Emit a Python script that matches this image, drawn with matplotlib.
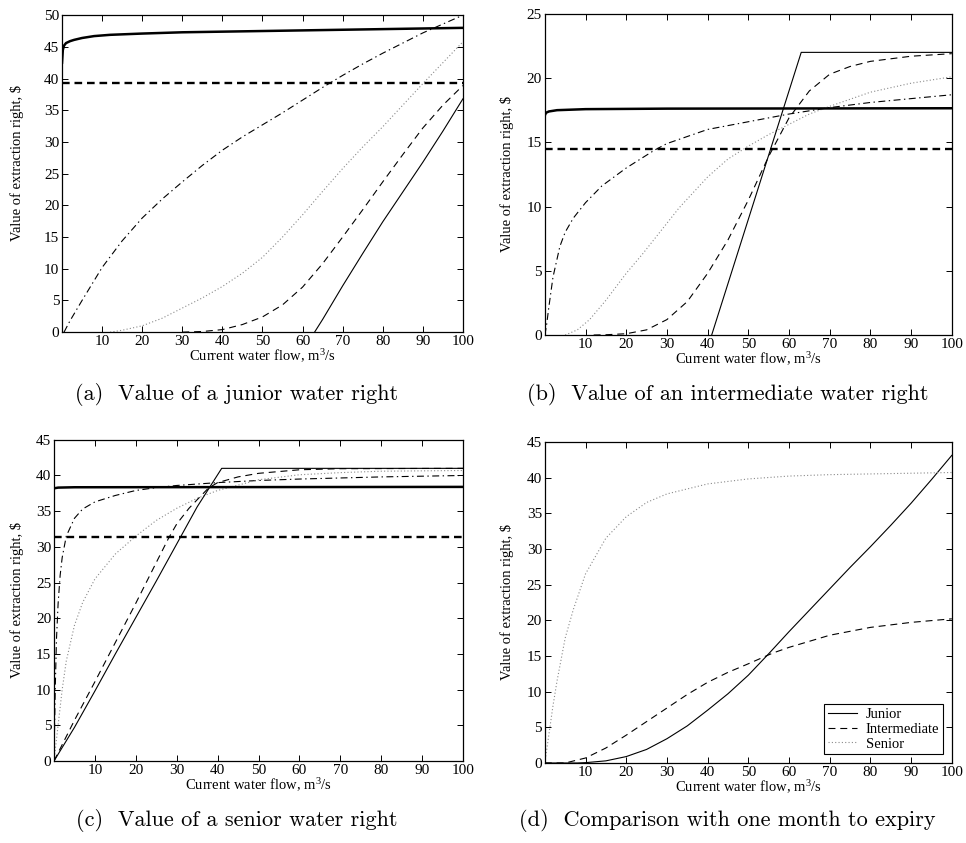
import matplotlib
matplotlib.use("Agg")
from matplotlib import pyplot as plt

plt.rcParams["font.family"] = ["Liberation Serif", "DejaVu Serif"]
plt.rcParams["mathtext.fontset"] = "custom"
plt.rcParams["mathtext.rm"] = "Liberation Serif"
plt.rcParams["mathtext.it"] = "Liberation Serif:italic"
plt.rcParams["lines.scale_dashes"] = False

# ---- panel (a): junior water right ----
a_thick_solid_x = [0, 0.2, 0.5, 1, 2, 3, 5, 8, 12, 20, 30, 40, 50, 60, 70, 80, 90, 100]
a_thick_solid_y = [42.5, 44.5, 45.2, 45.6, 45.9, 46.1, 46.4, 46.7, 46.9, 47.1, 47.3, 47.4, 47.5, 47.6, 47.7, 47.8, 47.9, 48.0]
a_thick_dashed_x = [0, 100]
a_thick_dashed_y = [39.35, 39.35]
a_dashdot_x = [0.5, 2, 5, 10, 15, 20, 25, 30, 35, 40, 45, 50, 55, 60, 65, 70, 75, 80, 85, 90, 95, 100]
a_dashdot_y = [0, 1.8, 5, 10.2, 14.4, 18.0, 21.0, 23.7, 26.3, 28.7, 30.8, 32.7, 34.6, 36.6, 38.6, 40.5, 42.3, 44.0, 45.6, 47.2, 48.6, 50.0]
a_dotted_x = [12, 15, 20, 25, 30, 35, 40, 45, 50, 55, 60, 65, 70, 75, 80, 85, 90, 95, 100]
a_dotted_y = [0, 0.3, 1.0, 2.2, 3.8, 5.4, 7.2, 9.3, 11.8, 15.0, 18.5, 22.2, 25.8, 29.2, 32.4, 35.8, 39.2, 42.5, 45.8]
a_dashed_x = [30, 35, 40, 45, 50, 55, 60, 65, 70, 75, 80, 85, 90, 95, 100]
a_dashed_y = [0, 0.1, 0.4, 1.2, 2.4, 4.3, 7.1, 10.8, 15, 19.3, 23.7, 28, 32.2, 35.8, 38.9]
a_solid_x = [63, 65, 70, 75, 80, 85, 90, 95, 100]
a_solid_y = [0, 2, 7.3, 12.4, 17.4, 22.1, 26.8, 31.7, 36.8]

# ---- panel (b): intermediate water right ----
b_thick_solid_x = [0, 0.3, 1, 3, 10, 30, 100]
b_thick_solid_y = [17.1, 17.3, 17.4, 17.5, 17.58, 17.62, 17.65]
b_thick_dashed_x = [0, 100]
b_thick_dashed_y = [14.45, 14.45]
b_solid_x = [41, 63, 100]
b_solid_y = [0, 22, 22]
b_dashed_x = [12, 15, 20, 25, 30, 35, 40, 45, 50, 55, 60, 65, 70, 75, 80, 90, 100]
b_dashed_y = [0, 0.02, 0.1, 0.4, 1.2, 2.6, 4.8, 7.4, 10.5, 13.9, 16.9, 19.0, 20.3, 20.9, 21.3, 21.7, 21.9]
b_dotted_x = [5, 8, 11, 15, 20, 24, 28, 33, 40, 45, 50, 55, 60, 65, 70, 80, 90, 100]
b_dotted_y = [0, 0.4, 1.2, 2.7, 4.8, 6.3, 7.9, 9.9, 12.3, 13.7, 14.7, 15.6, 16.4, 17.2, 17.8, 18.9, 19.6, 20.1]
b_dashdot_x = [0, 0.4, 1, 2, 3.7, 5, 7, 10, 14, 20, 27, 30, 40, 50, 60, 70, 80, 90, 100]
b_dashdot_y = [0, 0.7, 2.2, 4.5, 6.9, 8.0, 9.1, 10.3, 11.6, 13.0, 14.4, 14.9, 16.0, 16.6, 17.2, 17.7, 18.1, 18.4, 18.7]

# ---- panel (c): senior water right ----
c_thick_solid_x = [0, 1, 5, 100]
c_thick_solid_y = [38.2, 38.3, 38.35, 38.4]
c_thick_dashed_x = [0, 100]
c_thick_dashed_y = [31.4, 31.4]
c_solid_x = [0, 5, 10, 15, 20, 25, 30, 35, 41, 100]
c_solid_y = [0, 4.7, 9.8, 15.0, 20.1, 25.2, 30.4, 35.6, 41, 41]
c_dashed_x = [0, 5, 10, 15, 20, 25, 28, 30, 33, 35, 37.7, 40, 45, 50, 60, 70, 100]
c_dashed_y = [0, 5.7, 11.1, 16.6, 22.1, 27.8, 31.2, 33.2, 35.4, 36.6, 38.2, 39.0, 39.8, 40.3, 40.8, 40.95, 41.0]
c_dotted_x = [0, 1, 2, 3, 5, 7, 10, 15, 20, 25, 30, 35, 40, 50, 60, 70, 80, 100]
c_dotted_y = [0, 5, 10, 14, 19, 22.2, 25.5, 29, 31.5, 33.7, 35.4, 36.8, 37.9, 39.4, 40.1, 40.4, 40.6, 40.7]
c_dashdot_x = [0, 0.3, 0.6, 1, 1.5, 2, 3, 5, 7, 10, 15, 20, 25, 30, 40, 50, 60, 80, 100]
c_dashdot_y = [0, 10, 17, 22, 26, 28.5, 31.5, 34, 35.3, 36.3, 37.2, 37.9, 38.3, 38.6, 39.0, 39.3, 39.5, 39.8, 40.0]

# ---- panel (d): one month to expiry ----
d_junior_x = [0, 8, 10, 15, 20, 25, 30, 35, 40, 45, 50, 55, 60, 65, 70, 75, 80, 85, 90, 95, 100]
d_junior_y = [0, 0, 0.05, 0.3, 0.9, 1.9, 3.4, 5.2, 7.4, 9.7, 12.3, 15.3, 18.4, 21.4, 24.4, 27.4, 30.3, 33.3, 36.4, 39.7, 43.1]
d_inter_x = [0, 5, 10, 15, 20, 25, 30, 35, 40, 45, 50, 56, 60, 70, 80, 90, 100]
d_inter_y = [0, 0, 0.7, 2.1, 3.9, 5.8, 7.7, 9.6, 11.3, 12.7, 13.9, 15.4, 16.2, 17.9, 19.0, 19.7, 20.2]
d_senior_x = [0, 1, 2, 3, 5, 7, 10, 15, 20, 25, 30, 40, 50, 60, 70, 80, 100]
d_senior_y = [0, 4, 8, 11.5, 17.5, 21.5, 26.5, 31.5, 34.5, 36.5, 37.7, 39.1, 39.8, 40.2, 40.4, 40.5, 40.7]
d_labels = ["Junior", "Intermediate", "Senior"]

x_ticks = [10, 20, 30, 40, 50, 60, 70, 80, 90, 100]
captions = [
    "(a)  Value of a junior water right",
    "(b)  Value of an intermediate water right",
    "(c)  Value of a senior water right",
    "(d)  Comparison with one month to expiry",
]

STYLES = {
    "thick_solid": dict(color="black", lw=1.8, ls="-"),
    "thick_dashed": dict(color="black", lw=1.7, dashes=(5.5, 3.5)),
    "solid": dict(color="black", lw=0.8, ls="-"),
    "dashed": dict(color="black", lw=0.8, dashes=(5, 3.5)),
    "dashdot": dict(color="black", lw=0.8, dashes=(5, 2.5, 1, 2.5)),
    "dotted": dict(color="#8a8a8a", lw=0.8, dashes=(0.8, 1.6)),
}


def style_axes(ax, ymax, ystep, ylabel_x, ylabel_y=0.5):
    ax.set_xlim(0, 100)
    ax.set_ylim(0, ymax)
    ax.set_xticks(x_ticks)
    ax.set_yticks(range(0, ymax + 1, ystep))
    ax.tick_params(direction="in", top=True, right=True, length=4, width=0.7,
                   labelsize=11, pad=2)
    for spine in ax.spines.values():
        spine.set_linewidth(0.9)
    ax.set_xlabel("Current water flow, m$^3$/s", fontsize=10.5, labelpad=0)
    ax.set_ylabel("Value of extraction right, $", fontsize=10.5)
    ax.yaxis.set_label_coords(ylabel_x, ylabel_y)


fig = plt.figure(figsize=(9.66, 8.43), dpi=100)
ax_a = fig.add_axes([0.0642, 0.606, 0.415, 0.376])
ax_b = fig.add_axes([0.564, 0.6026, 0.4213, 0.381])
ax_c = fig.add_axes([0.0559, 0.0973, 0.4234, 0.381])
ax_d = fig.add_axes([0.564, 0.0949, 0.4213, 0.381])

ax_a.plot(a_dashdot_x, a_dashdot_y, **STYLES["dashdot"])
ax_a.plot(a_dotted_x, a_dotted_y, **STYLES["dotted"])
ax_a.plot(a_dashed_x, a_dashed_y, **STYLES["dashed"])
ax_a.plot(a_solid_x, a_solid_y, **STYLES["solid"])
ax_a.plot(a_thick_dashed_x, a_thick_dashed_y, **STYLES["thick_dashed"])
ax_a.plot(a_thick_solid_x, a_thick_solid_y, **STYLES["thick_solid"])
style_axes(ax_a, 50, 5, -0.095, 0.535)

ax_b.plot(b_dashdot_x, b_dashdot_y, **STYLES["dashdot"])
ax_b.plot(b_dotted_x, b_dotted_y, **STYLES["dotted"])
ax_b.plot(b_dashed_x, b_dashed_y, **STYLES["dashed"])
ax_b.plot(b_solid_x, b_solid_y, **STYLES["solid"])
ax_b.plot(b_thick_dashed_x, b_thick_dashed_y, **STYLES["thick_dashed"])
ax_b.plot(b_thick_solid_x, b_thick_solid_y, **STYLES["thick_solid"])
style_axes(ax_b, 25, 5, -0.076)

ax_c.plot(c_dashdot_x, c_dashdot_y, **STYLES["dashdot"])
ax_c.plot(c_dotted_x, c_dotted_y, **STYLES["dotted"])
ax_c.plot(c_dashed_x, c_dashed_y, **STYLES["dashed"])
ax_c.plot(c_solid_x, c_solid_y, **STYLES["solid"])
ax_c.plot(c_thick_dashed_x, c_thick_dashed_y, **STYLES["thick_dashed"])
ax_c.plot(c_thick_solid_x, c_thick_solid_y, **STYLES["thick_solid"])
style_axes(ax_c, 45, 5, -0.073)

ax_d.plot(d_junior_x, d_junior_y, label=d_labels[0], **STYLES["solid"])
ax_d.plot(d_inter_x, d_inter_y, label=d_labels[1], **STYLES["dashed"])
ax_d.plot(d_senior_x, d_senior_y, label=d_labels[2], **STYLES["dotted"])
style_axes(ax_d, 45, 5, -0.076)
leg = ax_d.legend(loc="lower right", fontsize=10.5, fancybox=False, framealpha=1,
                  edgecolor="black", handlelength=2.0, labelspacing=0.1,
                  borderpad=0.25, borderaxespad=0.6, handletextpad=0.6)
leg.get_frame().set_linewidth(0.8)

caption_pos = [(237 / 966, 1 - 395 / 843), (728 / 966, 1 - 395 / 843),
               (237 / 966, 1 - 821 / 843), (727 / 966, 1 - 821 / 843)]
for (cx, cy), text in zip(caption_pos, captions):
    fig.text(cx, cy, text, ha="center", va="center", fontsize=16, family="cmr10")

fig.savefig("out.png", dpi=100)
